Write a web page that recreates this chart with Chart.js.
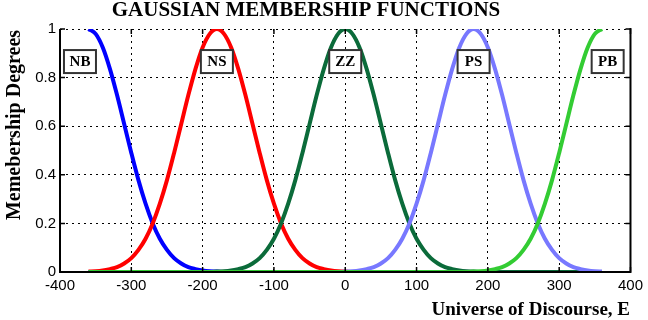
<!DOCTYPE html>
<html>
<head>
<meta charset="utf-8">
<script src="https://cdn.jsdelivr.net/npm/chart.js@4/dist/chart.umd.min.js"></script>
<style>
  body { margin: 0; background: #fff; }
  canvas { display: block; }
</style>
</head>
<body>
<canvas id="myChart" width="648" height="320"></canvas>
<script>
// universe of discourse, step 10
var xs = [
  -360, -350, -340, -330, -320, -310, -300, -290, -280, -270,
  -260, -250, -240, -230, -220, -210, -200, -190, -180, -170,
  -160, -150, -140, -130, -120, -110, -100, -90, -80, -70,
  -60, -50, -40, -30, -20, -10, 0, 10, 20, 30,
  40, 50, 60, 70, 80, 90, 100, 110, 120, 130,
  140, 150, 160, 170, 180, 190, 200, 210, 220, 230,
  240, 250, 260, 270, 280, 290, 300, 310, 320, 330,
  340, 350, 360
];

var nb = [
  1, 0.980, 0.924, 0.836, 0.728, 0.609, 0.490, 0.378, 0.281, 0.200,
  0.137, 0.091, 0.057, 0.035, 0.020, 0.012, 0.006, 0.003, 0.002, 0,
  0, 0, 0, 0, 0, 0, 0, 0, 0, 0,
  0, 0, 0, 0, 0, 0, 0, 0, 0, 0,
  0, 0, 0, 0, 0, 0, 0, 0, 0, 0,
  0, 0, 0, 0, 0, 0, 0, 0, 0, 0,
  0, 0, 0, 0, 0, 0, 0, 0, 0, 0,
  0, 0, 0
];
var ns = [
  0.002, 0.003, 0.006, 0.012, 0.020, 0.035, 0.057, 0.091, 0.137, 0.200,
  0.281, 0.378, 0.490, 0.609, 0.728, 0.836, 0.924, 0.980, 1, 0.980,
  0.924, 0.836, 0.728, 0.609, 0.490, 0.378, 0.281, 0.200, 0.137, 0.091,
  0.057, 0.035, 0.020, 0.012, 0.006, 0.003, 0.002, 0, 0, 0,
  0, 0, 0, 0, 0, 0, 0, 0, 0, 0,
  0, 0, 0, 0, 0, 0, 0, 0, 0, 0,
  0, 0, 0, 0, 0, 0, 0, 0, 0, 0,
  0, 0, 0
];
var zz = [
  0, 0, 0, 0, 0, 0, 0, 0, 0, 0,
  0, 0, 0, 0, 0, 0, 0, 0, 0.002, 0.003,
  0.006, 0.012, 0.020, 0.035, 0.057, 0.091, 0.137, 0.200, 0.281, 0.378,
  0.490, 0.609, 0.728, 0.836, 0.924, 0.980, 1, 0.980, 0.924, 0.836,
  0.728, 0.609, 0.490, 0.378, 0.281, 0.200, 0.137, 0.091, 0.057, 0.035,
  0.020, 0.012, 0.006, 0.003, 0.002, 0, 0, 0, 0, 0,
  0, 0, 0, 0, 0, 0, 0, 0, 0, 0,
  0, 0, 0
];
var ps = [
  0, 0, 0, 0, 0, 0, 0, 0, 0, 0,
  0, 0, 0, 0, 0, 0, 0, 0, 0, 0,
  0, 0, 0, 0, 0, 0, 0, 0, 0, 0,
  0, 0, 0, 0, 0, 0, 0.002, 0.003, 0.006, 0.012,
  0.020, 0.035, 0.057, 0.091, 0.137, 0.200, 0.281, 0.378, 0.490, 0.609,
  0.728, 0.836, 0.924, 0.980, 1, 0.980, 0.924, 0.836, 0.728, 0.609,
  0.490, 0.378, 0.281, 0.200, 0.137, 0.091, 0.057, 0.035, 0.020, 0.012,
  0.006, 0.003, 0.002
];
var pb = [
  0, 0, 0, 0, 0, 0, 0, 0, 0, 0,
  0, 0, 0, 0, 0, 0, 0, 0, 0, 0,
  0, 0, 0, 0, 0, 0, 0, 0, 0, 0,
  0, 0, 0, 0, 0, 0, 0, 0, 0, 0,
  0, 0, 0, 0, 0, 0, 0, 0, 0, 0,
  0, 0, 0, 0, 0.002, 0.003, 0.006, 0.012, 0.020, 0.035,
  0.057, 0.091, 0.137, 0.200, 0.281, 0.378, 0.490, 0.609, 0.728, 0.836,
  0.924, 0.980, 1
];

var setNames = ['NB', 'NS', 'ZZ', 'PS', 'PB'];
var setLabelX = [-372, -180, 0, 180, 368];
var setLabelY = 0.866;
var xTicks = [-400, -300, -200, -100, 0, 100, 200, 300, 400];
var yTicks = [0, 0.2, 0.4, 0.6, 0.8, 1];

var series = [nb, ns, zz, ps, pb];
var colors = ['#0000ff', '#ff0000', '#0b6b3a', '#7878ff', '#33cc33'];

function pts(arr) {
  return xs.map(function (x, i) { return { x: x, y: arr[i] }; });
}

var datasets = series.map(function (s, k) {
  return {
    label: setNames[k],
    data: pts(s),
    borderColor: colors[k],
    borderWidth: 4,
    pointRadius: 0,
    fill: false,
    cubicInterpolationMode: 'monotone',
    order: 5 - k
  };
});

var serif = "'Liberation Serif', 'DejaVu Serif', serif";
var sans = "'Liberation Sans', Arial, sans-serif";

var decor = {
  id: 'decor',
  afterDatasetsDraw: function (chart) {
    var ctx = chart.ctx;
    var a = chart.chartArea;
    var sx = chart.scales.x, sy = chart.scales.y;
    ctx.save();

    // box lines (top left as dotted grid)
    ctx.strokeStyle = '#000';
    ctx.lineWidth = 2;
    ctx.beginPath();
    ctx.moveTo(a.left, a.top); ctx.lineTo(a.left, a.bottom);
    ctx.lineTo(a.right, a.bottom); ctx.lineTo(a.right, a.top - 1);
    ctx.stroke();

    // inward ticks
    ctx.lineWidth = 1.5;
    ctx.beginPath();
    xTicks.forEach(function (t) {
      var px = sx.getPixelForValue(t);
      ctx.moveTo(px, a.bottom); ctx.lineTo(px, a.bottom - 5);
      ctx.moveTo(px, a.top); ctx.lineTo(px, a.top + 5);
    });
    yTicks.forEach(function (t) {
      var py = sy.getPixelForValue(t);
      ctx.moveTo(a.left, py); ctx.lineTo(a.left + 5, py);
      ctx.moveTo(a.right, py); ctx.lineTo(a.right - 5, py);
    });
    ctx.stroke();

    // set name boxes
    ctx.font = 'bold 15px ' + serif;
    ctx.textAlign = 'center';
    ctx.textBaseline = 'middle';
    setNames.forEach(function (n, k) {
      var cx = sx.getPixelForValue(setLabelX[k]);
      var cy = sy.getPixelForValue(setLabelY);
      ctx.fillStyle = '#fff';
      ctx.fillRect(cx - 16, cy - 11.5, 32, 23);
      ctx.strokeStyle = '#333';
      ctx.lineWidth = 2;
      ctx.strokeRect(cx - 16, cy - 11.5, 32, 23);
      ctx.fillStyle = '#000';
      ctx.fillText(n, cx, cy + 1);
    });

    // titles
    ctx.fillStyle = '#000';
    ctx.font = 'bold 21px ' + serif;
    ctx.textAlign = 'center';
    ctx.fillText('GAUSSIAN MEMBERSHIP FUNCTIONS', 306, 11);

    ctx.font = 'bold 19px ' + serif;
    ctx.textAlign = 'right';
    ctx.fillText('Universe of Discourse, E', 630, 310);

    ctx.translate(15, 125);
    ctx.rotate(-Math.PI / 2);
    ctx.textAlign = 'center';
    ctx.font = 'bold 20px ' + serif;
    ctx.fillText('Memebership Degrees', 0, 0);
    ctx.restore();
  }
};

var ctx = document.getElementById('myChart').getContext('2d');
var chart = new Chart(ctx, {
  type: 'line',
  data: { datasets: datasets },
  options: {
    responsive: false,
    animation: false,
    layout: { padding: { left: 0, top: 29, right: 15, bottom: 0 } },
    plugins: { legend: { display: false }, tooltip: { enabled: false }, title: { display: false } },
    scales: {
      x: {
        type: 'linear',
        min: -400, max: 400,
        afterFit: function (s) { s.height = 48; },
        afterBuildTicks: function (s) { s.ticks = xTicks.map(function (v) { return { value: v }; }); },
        ticks: { color: '#000', font: { family: sans, size: 15 }, padding: 5, maxRotation: 0 },
        grid: { color: '#000', lineWidth: 1, drawTicks: false },
        border: { display: false, dash: [2, 4] }
      },
      y: {
        min: 0, max: 1,
        afterFit: function (s) { s.width = 60; },
        afterBuildTicks: function (s) { s.ticks = yTicks.map(function (v) { return { value: v }; }); },
        ticks: {
          color: '#000', font: { family: sans, size: 15 }, padding: 4,
          callback: function (v) { return String(Math.round(v * 10) / 10); }
        },
        grid: { color: '#000', lineWidth: 1, drawTicks: false },
        border: { display: false, dash: [2, 4] }
      }
    }
  },
  plugins: [decor]
});
</script>
</body>
</html>
